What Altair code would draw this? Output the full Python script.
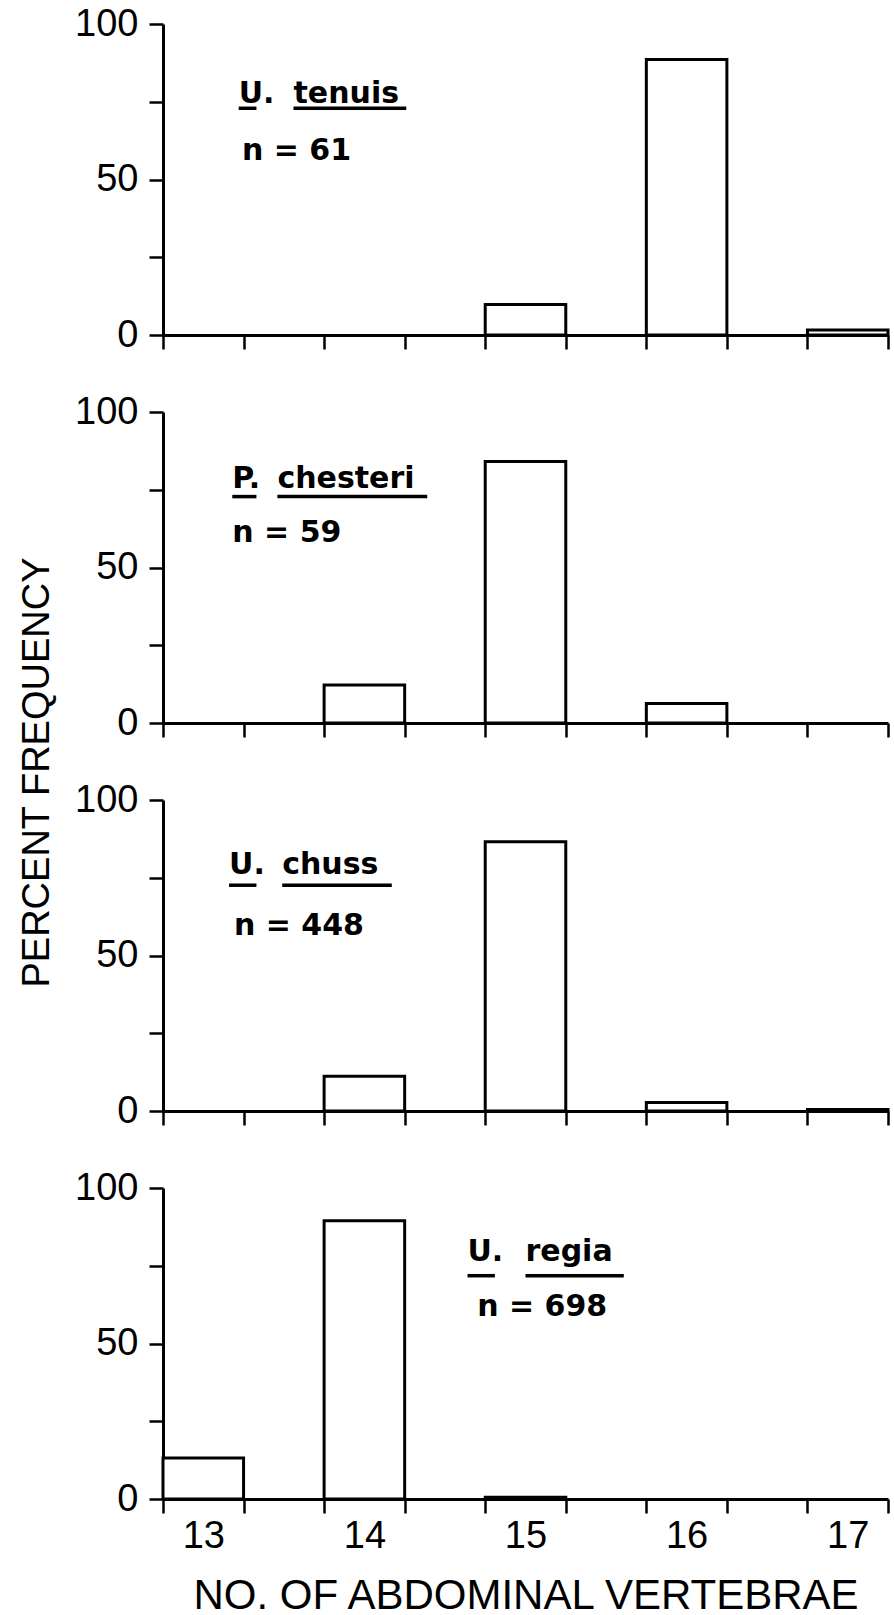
import altair as alt
import pandas as pd

# ---- data ----
vertebrae = [13, 14, 15, 16, 17]
pct_u_tenuis = [0, 0, 9.8, 88.6, 1.6]
pct_p_chesteri = [0, 12.2, 84.1, 6.3, 0]
pct_u_chuss = [0, 11.2, 86.6, 2.7, 0.5]
pct_u_regia = [13.2, 89.5, 0.6, 0, 0]

genus = ["U.", "P.", "U.", "U."]
species = ["tenuis", "chesteri", "chuss", "regia"]
sample_size = ["n = 61", "n = 59", "n = 448", "n = 698"]

series = [pct_u_tenuis, pct_p_chesteri, pct_u_chuss, pct_u_regia]

# ---- annotation placement (data units) ----
genus_x = [13.22, 13.18, 13.16, 14.64]
genus_ul_end = [13.33, 13.33, 13.33, 14.81]
species_x = [13.56, 13.46, 13.49, 15.00]
species_ul_end = [14.26, 14.39, 14.17, 15.61]
name_y = [74.7, 75.7, 76.1, 76.6]
underline_y = [72.9, 72.8, 72.6, 71.8]
n_x = [13.24, 13.18, 13.19, 14.70]
n_y = [56.3, 58.2, 56.5, 58.7]

bar_half = 0.25
x_domain = [12.75, 17.25]
tick_vals = [12.75 + 0.5 * k for k in range(10)]
x_vals = sorted(tick_vals + vertebrae)

xscale = alt.Scale(domain=x_domain, nice=False, zero=False)
yscale = alt.Scale(domain=[0, 100], nice=False)

ANN_FONT = "DejaVu Sans"
AX_FONT = "Liberation Sans"


def panel(i, bottom):
    df = pd.DataFrame({"v": vertebrae, "pct": series[i]})
    df = df[df["pct"] > 0]

    xaxis_kw = dict(
        values=x_vals,
        tickOpacity={"condition": {"test": "datum.value % 1 === 0", "value": 0}, "value": 1},
        labelOverlap=False,
        labelFlush=False,
    )
    if bottom:
        xaxis = alt.Axis(labels=True,
                         labelExpr="datum.value % 1 === 0 ? format(datum.value, 'd') : ''",
                         labelPadding=4, titlePadding=20, **xaxis_kw)
        xtitle = "NO. OF ABDOMINAL VERTEBRAE"
    else:
        xaxis = alt.Axis(labels=False, **xaxis_kw)
        xtitle = None

    yaxis = alt.Axis(values=[0, 25, 50, 75, 100],
                     labelExpr="datum.value % 50 === 0 ? datum.label : ''",
                     labelPadding=11)

    def X(field):
        return alt.X(field, scale=xscale, axis=xaxis, title=xtitle)

    def Y(field):
        return alt.Y(field, scale=yscale, axis=yaxis, title=None)

    bars = alt.Chart(df).transform_calculate(
        lo=f"datum.v - {bar_half}", hi=f"datum.v + {bar_half}", base="0"
    ).mark_rect(fill="white", stroke="black", strokeWidth=3).encode(
        x=X("lo:Q"),
        x2="hi:Q",
        y=Y("pct:Q"),
        y2="base:Q",
    )

    tdf = pd.DataFrame({
        "t": [genus[i], species[i], sample_size[i]],
        "x": [genus_x[i], species_x[i], n_x[i]],
        "y": [name_y[i], name_y[i], n_y[i]],
    })
    text = alt.Chart(tdf).mark_text(
        align="left", baseline="alphabetic", font=ANN_FONT, fontSize=30,
        fontWeight="bold", color="black"
    ).encode(
        x=X("x:Q"),
        y=Y("y:Q"),
        text="t:N",
    )

    udf = pd.DataFrame({
        "x": [genus_x[i], species_x[i]],
        "x2": [genus_ul_end[i], species_ul_end[i]],
        "y": [underline_y[i], underline_y[i]],
    })
    ul = alt.Chart(udf).mark_rule(color="black", strokeWidth=3.5).encode(
        x=X("x:Q"),
        x2="x2:Q",
        y=Y("y:Q"),
    )

    return alt.layer(bars, text, ul).properties(width=725, height=311)


panels = [panel(i, i == 3) for i in range(4)]

chart = alt.vconcat(*panels, spacing=39).properties(
    title=alt.TitleParams(
        text="PERCENT FREQUENCY", orient="left", anchor="middle",
        font=AX_FONT, fontSize=38, fontWeight="normal", color="black",
        offset=18, dx=38,
    ),
    padding={"left": 18, "top": 5, "right": 0, "bottom": 0},
    background="white",
).configure_axis(
    domainColor="black", domainWidth=3,
    tickColor="black", tickWidth=2.5, tickSize=14,
    labelColor="black", labelFont=AX_FONT, labelFontSize=38,
    titleColor="black", titleFont=AX_FONT, titleFontSize=42, titleFontWeight="normal",
    grid=False,
).configure_view(strokeOpacity=0)

chart.save("out.html", embed_options={"renderer": "svg", "actions": False})
